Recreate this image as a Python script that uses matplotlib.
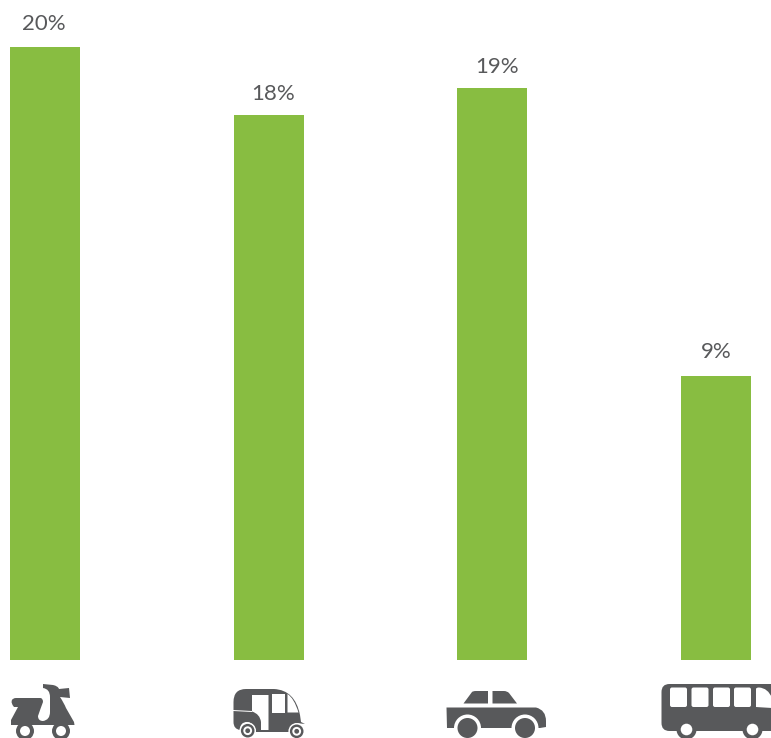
"""Vehicle share bars with hand-drawn icons under each bar."""
import matplotlib

matplotlib.use("Agg")
import matplotlib.pyplot as plt
from matplotlib.patches import Circle, FancyBboxPatch, PathPatch, Polygon
from matplotlib.path import Path

plt.rcParams["font.family"] = ["Lato", "DejaVu Sans"]

vehicles = ["Scooter", "Auto rickshaw", "Car", "Bus"]
bar_values = [20.0, 17.78, 18.66, 9.26]
bar_labels = ["20%", "18%", "19%", "9%"]

GREEN = "#88BD41"
DARK = "#58595B"
W, H = 771, 738
BAR_STEP = 223.67  # px between bars
PX_PER_PCT = 30.625
# label nudges in px, the source labels were placed by hand
LABEL_DX = [-1.5, 4.5, 5, 0.5]
LABEL_DY = [13, 11, 11, 14]


def shape(ax, verts, color=DARK):
    """Closed path, a vertex given as (ctrl, end) becomes a quadratic curve."""
    pts, codes = [verts[0]], [Path.MOVETO]
    for v in verts[1:]:
        if isinstance(v[0], tuple):
            pts += [v[0], v[1]]
            codes += [Path.CURVE3, Path.CURVE3]
        else:
            pts.append(v)
            codes.append(Path.LINETO)
    pts.append(verts[0])
    codes.append(Path.CLOSEPOLY)
    ax.add_patch(PathPatch(Path(pts, codes), fc=color, ec="none"))


def disc(ax, x, y, r, color=DARK):
    ax.add_patch(Circle((x, y), r, fc=color, ec="none"))


def rrect(ax, x, y, w, h, r, color):
    ax.add_patch(FancyBboxPatch((x + r, y + r), w - 2 * r, h - 2 * r,
                                boxstyle=f"round,pad={r},rounding_size={r}", fc=color, ec="none"))


def draw_scooter(ax):
    shape(ax, [(43, 684), (53, 685), ((58, 686), (59, 689)), (69, 688), (70, 698), (60, 697),
               ((64, 703), (66, 708)), (74, 722), (74.5, 725), (11, 725), (11, 720), (18, 707),
               (14, 707), ((10.5, 703), (12, 700)), ((13, 698), (16, 698)), (40, 698),
               ((43, 698), (43, 702)), ((40, 710), (38, 716)), ((38, 721), (43, 721)),
               ((50, 720), (50, 712)), (50, 697), ((50, 689), (43, 688))])
    for cx in (25, 61):
        disc(ax, cx, 731, 9)
        disc(ax, cx, 731, 5, "white")


def draw_rickshaw(ax):
    shape(ax, [(233.5, 702), ((233.5, 689), (246, 689)), (274, 689), ((295, 690), (300, 715)),
               (301, 722), (305, 724), (296, 723), ((292, 725), (290, 732)), (270, 732),
               (256, 732), ((254, 722), (247, 722)), ((240, 722), (240, 730)), ((233.5, 729), (233.5, 722))])
    ax.add_patch(Polygon([(233, 711), (252, 712), (252, 711), (233, 710)], fc="white", ec="none"))
    shape(ax, [(252, 695), (268.5, 695), (268.5, 730), (261, 730), (261, 722), ((260, 714), (252, 711.5))], "white")
    ax.add_patch(Polygon([(271.5, 694), (285, 694), (285, 712.5), (271.5, 712.5)], fc="white", ec="none"))
    shape(ax, [(287.5, 694), ((294, 698), (298.5, 712.5)), (287.5, 712.5)], "white")
    for cx, cy in ((247.7, 730.7), (296.7, 731.3)):
        disc(ax, cx, cy, 8.3, "white")
        disc(ax, cx, cy, 6.8)
        disc(ax, cx, cy, 4.4, "white")
        disc(ax, cx, cy, 2.4)


def draw_car(ax):
    shape(ax, [(463.5, 703.5), (472, 692), ((473, 691), (476, 691)), (488, 691), (488, 703.5)])
    shape(ax, [(492.5, 691), (504, 691), ((507, 691), (509, 693)), (517, 703.5), (492.5, 703.5)])
    shape(ax, [(446.5, 707.5), (536, 707.5), ((546, 710), (546, 721)), (546, 727), (540, 728),
               (447, 728)])
    for cx in (467.5, 525):
        disc(ax, cx, 728, 13.5, "white")
    ax.add_patch(Polygon([(440, 728), (550, 728), (550, 740), (440, 740)], fc="white", ec="none"))
    for cx in (467.5, 525):
        disc(ax, cx, 728, 10)


def draw_bus(ax):
    rrect(ax, 661.5, 684, 130, 47, 8, DARK)
    for x in (670, 691.5, 713, 734):
        rrect(ax, x, 687.5, 17, 19.5, 2, "white")
    shape(ax, [(756, 689), ((756, 687.5), (759, 687.5)), ((768, 688), (772, 698)), (772, 708), (756, 707)], "white")
    for cx in (686.5, 752.5):
        disc(ax, cx, 729.5, 10)
        disc(ax, cx, 729.5, 5.8, "white")


fig = plt.figure(figsize=(W / 100, H / 100), dpi=100)
ax = fig.add_axes([0, 78.5 / H, 1, 659.5 / H])
ax.bar(range(len(vehicles)), bar_values, width=70 / BAR_STEP, color=GREEN)
ax.set_xlim(-45 / BAR_STEP, (W - 45) / BAR_STEP)
ax.set_ylim(0, 659.5 / PX_PER_PCT)
ax.axis("off")
for i, (val, lab) in enumerate(zip(bar_values, bar_labels)):
    ax.annotate(lab, (i, val), xytext=(LABEL_DX[i] * 0.72, LABEL_DY[i] * 0.72),
                textcoords="offset points", ha="center", va="bottom", fontsize=16, color=DARK)

# icons live in a pixel-space overlay
icons = fig.add_axes([0, 0, 1, 1])
icons.set_xlim(0, W)
icons.set_ylim(H, 0)
icons.axis("off")
icons.patch.set_alpha(0)
draw_scooter(icons)
draw_rickshaw(icons)
draw_car(icons)
draw_bus(icons)

fig.savefig("out.png", dpi=100)
